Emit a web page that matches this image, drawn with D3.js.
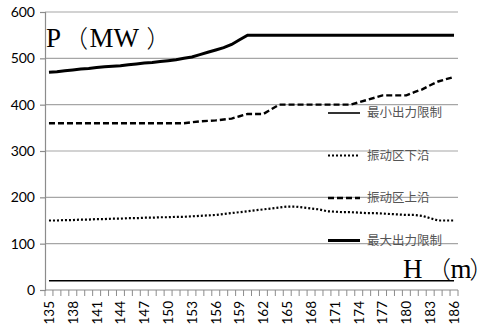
<!DOCTYPE html>
<html>
<head>
<meta charset="utf-8">
<script src="https://cdn.jsdelivr.net/npm/d3@7"></script>
<style>
  html, body { margin: 0; padding: 0; background: #fff; }
  svg { display: block; }
</style>
</head>
<body>
<svg id="chart" width="492" height="332"></svg>
<script>
// Water head H (m), one category per metre
const heads = d3.range(135, 187);

// Maximum output limit (MW)
const maxLimit = [470, 471, 473, 475, 477, 478, 480, 482, 483, 484, 486, 488, 490, 491, 493, 495, 497, 500,
  503, 508, 513, 518, 523, 530, 540, 550, 550, 550, 550, 550, 550, 550, 550, 550, 550, 550, 550, 550, 550,
  550, 550, 550, 550, 550, 550, 550, 550, 550, 550, 550, 550, 550];

// Upper edge of the vibration zone (MW)
const vibUpper = [360, 360, 360, 360, 360, 360, 360, 360, 360, 360, 360, 360, 360, 360, 360, 360, 360, 360,
  362, 364, 365, 366, 368, 370, 375, 380, 380, 380, 390, 400, 400, 400, 400, 400, 400, 400, 400, 400, 400,
  405, 410, 415, 420, 420, 420, 420, 427, 433, 442, 450, 455, 460];

// Lower edge of the vibration zone (MW)
const vibLower = [150, 150, 151, 151, 152, 152, 153, 153, 154, 154, 155, 155, 156, 156, 157, 157, 158, 158,
  159, 160, 161, 162, 164, 166, 168, 170, 172, 174, 176, 178, 180, 180, 178, 176, 174, 170, 169, 168, 168,
  167, 166, 166, 165, 164, 163, 162, 162, 160, 155, 150, 150, 150];

// Minimum output limit (MW)
const minLimit = heads.map(() => 20);

const yTicks = [0, 100, 200, 300, 400, 500, 600];
const xLabels = heads.filter((h, i) => i % 3 === 0);

const legendNames = ["最小出力限制", "振动区下沿", "振动区上沿", "最大出力限制"];

const series = [
  { name: legendNames[0], values: minLimit, width: 1.6, dash: null },
  { name: legendNames[1], values: vibLower, width: 2.2, dash: "2,2" },
  { name: legendNames[2], values: vibUpper, width: 2.4, dash: "6,3" },
  { name: legendNames[3], values: maxLimit, width: 3, dash: null }
];

const svg = d3.select("#chart");
const plotLeft = 45, plotRight = 458, plotTop = 12, plotBottom = 290;

const x = d3.scaleBand().domain(heads).range([plotLeft, plotRight]);
const y = d3.scaleLinear().domain([0, 600]).range([plotBottom, plotTop]);
const cx = h => x(h) + x.bandwidth() / 2;

// Horizontal gridlines
svg.append("g").selectAll("line")
  .data(yTicks.filter(v => v > 0))
  .join("line")
  .attr("x1", plotLeft).attr("x2", plotRight)
  .attr("y1", d => y(d)).attr("y2", d => y(d))
  .attr("stroke", "#a6a6a6").attr("stroke-width", 1.2);

// Y axis
const yAxis = svg.append("g")
  .attr("transform", `translate(${plotLeft},0)`)
  .call(d3.axisLeft(y).tickValues(yTicks).tickSize(5).tickPadding(5));
yAxis.select(".domain").attr("stroke", "#8c8c8c").attr("stroke-width", 1.2);
yAxis.selectAll(".tick line").attr("stroke", "#8c8c8c").attr("stroke-width", 1.2);
yAxis.selectAll("text")
  .attr("font-family", "Lato, 'Open Sans', sans-serif")
  .attr("font-size", 14).attr("fill", "#000");

// X axis: labels every third metre, tick marks on band boundaries
const xAxis = svg.append("g")
  .attr("transform", `translate(0,${plotBottom})`)
  .call(d3.axisBottom(x).tickValues(xLabels).tickSize(0).tickPadding(0));
xAxis.select(".domain").remove();
xAxis.selectAll("text")
  .attr("font-family", "Lato, 'Open Sans', sans-serif")
  .attr("font-size", 13.5).attr("fill", "#000")
  .attr("transform", "rotate(-90)")
  .attr("text-anchor", "end")
  .attr("dy", "0.36em")
  .attr("x", -11).attr("y", 0);

svg.append("line")
  .attr("x1", plotLeft).attr("x2", plotRight)
  .attr("y1", plotBottom).attr("y2", plotBottom)
  .attr("stroke", "#8c8c8c").attr("stroke-width", 1.2);
svg.append("g").selectAll("line")
  .data(heads.map(h => x(h)).concat([x(heads[heads.length - 1]) + x.bandwidth()]))
  .join("line")
  .attr("x1", d => d).attr("x2", d => d)
  .attr("y1", plotBottom).attr("y2", plotBottom + 6)
  .attr("stroke", "#8c8c8c").attr("stroke-width", 1);

// Series lines
const line = d3.line().x((d, i) => cx(heads[i])).y(d => y(d));
svg.append("g").selectAll("path")
  .data(series)
  .join("path")
  .attr("d", d => line(d.values))
  .attr("fill", "none")
  .attr("stroke", "#000")
  .attr("stroke-width", d => d.width)
  .attr("stroke-dasharray", d => d.dash);

// Legend
const legend = svg.append("g").selectAll("g")
  .data(series)
  .join("g")
  .attr("transform", (d, i) => `translate(328,${113 + i * 42.5})`);
legend.append("line")
  .attr("x1", 0).attr("x2", 32)
  .attr("stroke", "#000")
  .attr("stroke-width", d => d.width)
  .attr("stroke-dasharray", d => d.dash);
legend.append("text")
  .attr("x", 39).attr("dy", "0.35em")
  .attr("font-family", "'Noto Sans CJK SC', sans-serif")
  .attr("font-size", 12.5)
  .attr("fill", "#555")
  .text(d => d.name);

// Axis titles: Latin letters in a serif face, full-width brackets from the CJK face
function axisTitle(xPos, baseline, parts) {
  const t = svg.append("text")
    .attr("x", xPos).attr("y", baseline)
    .attr("fill", "#000");
  parts.forEach(p => {
    t.append("tspan")
      .attr("dx", p.dx || 0)
      .attr("font-family", p.cjk ? "'Noto Sans CJK SC', sans-serif" : "'Liberation Serif', serif")
      .attr("font-weight", p.cjk ? 300 : 400)
      .attr("font-size", p.cjk ? 24 : 27)
      .text(p.t);
  });
}
axisTitle(46, 46.5, [
  { t: "P" },
  { t: "（", dx: 3, cjk: true },
  { t: "MW", dx: 1.5 },
  { t: "）", dx: 7.5, cjk: true }
]);
axisTitle(403, 277.5, [
  { t: "H" },
  { t: "（", dx: 4.5, cjk: true },
  { t: "m", dx: -0.5 },
  { t: "）", dx: -2, cjk: true }
]);
</script>
</body>
</html>
